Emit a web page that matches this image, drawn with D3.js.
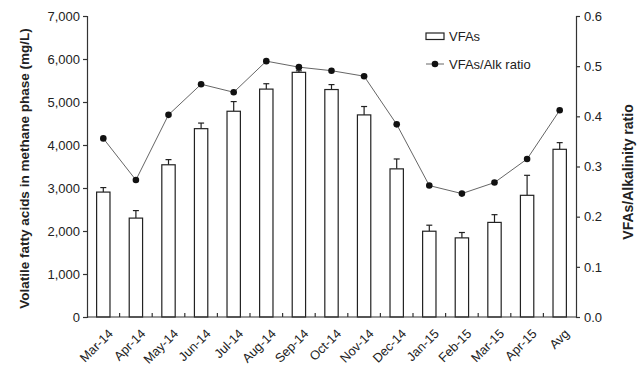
<!DOCTYPE html>
<html>
<head>
<meta charset="utf-8">
<script src="https://cdn.jsdelivr.net/npm/d3@7"></script>
<style>
  body { margin: 0; background: #fff; }
  svg { display: block; font-family: "Liberation Sans", Arial, sans-serif; }
</style>
</head>
<body>
<svg id="chart" width="640" height="366"></svg>
<script>
// Monthly volatile fatty acids in the methane phase and VFA/alkalinity ratio
const months = ["Mar-14","Apr-14","May-14","Jun-14","Jul-14","Aug-14","Sep-14","Oct-14",
                "Nov-14","Dec-14","Jan-15","Feb-15","Mar-15","Apr-15","Avg"];
const vfas    = [2905, 2300, 3540, 4380, 4785, 5300, 5690, 5290, 4700, 3445, 1995, 1840, 2200, 2830, 3900];
const vfasErr = [ 105,  175,  120,  130,  225,  125,   35,  115,  195,  230,  140,  125,  180,  465,  155];
const ratio   = [0.356, 0.273, 0.403, 0.464, 0.448, 0.510, 0.498, 0.491, 0.480, 0.384,
                 0.262, 0.246, 0.268, 0.315, 0.412];
const leftTicks  = [0, 1000, 2000, 3000, 4000, 5000, 6000, 7000];
const rightTicks = [0, 0.1, 0.2, 0.3, 0.4, 0.5, 0.6];

const svg = d3.select("#chart");
const L = 87, R = 576, T = 16, B = 317;
const axisColor = "#333";

const x = d3.scaleBand().domain(months).range([L, R]).paddingInner(0.59).paddingOuter(0.295);
const yL = d3.scaleLinear().domain([0, 7000]).range([B, T]);
const yR = d3.scaleLinear().domain([0, 0.6]).range([B, T]);
const cx = d => x(d) + x.bandwidth() / 2;

// Bars with upper error bars
const bars = svg.append("g");
months.forEach((m, i) => {
  const top = yL(vfas[i]);
  const et = yL(vfas[i] + vfasErr[i]);
  bars.append("line").attr("x1", cx(m)).attr("x2", cx(m)).attr("y1", top).attr("y2", et)
    .attr("stroke", "#222").attr("stroke-width", 1.2);
  bars.append("line").attr("x1", cx(m) - 3).attr("x2", cx(m) + 3).attr("y1", et).attr("y2", et)
    .attr("stroke", "#222").attr("stroke-width", 1.2);
  bars.append("rect").attr("x", x(m)).attr("y", top)
    .attr("width", x.bandwidth()).attr("height", B - top)
    .attr("fill", "#fff").attr("stroke", "#222").attr("stroke-width", 1.2);
});

// Ratio line and markers
const line = d3.line().x((d, i) => cx(months[i])).y(d => yR(d));
svg.append("path").datum(ratio).attr("d", line)
  .attr("fill", "none").attr("stroke", "#666").attr("stroke-width", 1);
svg.append("g").selectAll("circle").data(ratio).join("circle")
  .attr("cx", (d, i) => cx(months[i])).attr("cy", d => yR(d)).attr("r", 3.3)
  .attr("fill", "#111");

// Left axis
const fmt = d3.format(",");
const gL = svg.append("g").attr("transform", `translate(${L},0)`)
  .call(d3.axisLeft(yL).tickValues(leftTicks).tickFormat(fmt).tickSizeOuter(0).tickSize(4).tickPadding(3));
// Right axis
const gR = svg.append("g").attr("transform", `translate(${R},0)`)
  .call(d3.axisRight(yR).tickValues(rightTicks).tickFormat(d3.format(".1f")).tickSizeOuter(0).tickSize(4).tickPadding(4));
[gL, gR].forEach(g => {
  g.select(".domain").attr("stroke", axisColor).attr("stroke-width", 1.2);
  g.selectAll(".tick line").attr("stroke", axisColor).attr("stroke-width", 1.2);
  g.selectAll(".tick text").attr("fill", "#222").style("font-size", "13px")
    .style("font-family", "Liberation Sans, Arial, sans-serif");
});

// Bottom axis: baseline with inward ticks between categories
const gB = svg.append("g");
gB.append("line").attr("x1", L).attr("x2", R).attr("y1", B).attr("y2", B)
  .attr("stroke", axisColor).attr("stroke-width", 1.2);
months.slice(1).forEach(m => {
  const bx = x(m) - x.step() * x.paddingInner() / 2;
  gB.append("line").attr("x1", bx).attr("x2", bx).attr("y1", B).attr("y2", B - 4)
    .attr("stroke", axisColor).attr("stroke-width", 1.2);
});
gB.selectAll("text").data(months).join("text")
  .attr("transform", d => `translate(${cx(d) + 4},${B + 11}) rotate(-45)`)
  .attr("text-anchor", "end").attr("dy", "0.71em")
  .style("font-size", "12.8px").attr("fill", "#222").text(d => d);

// Axis titles
svg.append("text").attr("transform", `translate(24,${(T + B) / 2 + 2}) rotate(-90)`)
  .attr("text-anchor", "middle").attr("dy", "0.35em")
  .style("font-size", "13.5px").style("font-weight", "bold").attr("fill", "#222")
  .text("Volatile fatty acids in methane phase (mg/L)");
svg.append("text").attr("transform", `translate(628,172) rotate(-90)`)
  .attr("text-anchor", "middle").attr("dy", "0.35em")
  .style("font-size", "14px").style("font-weight", "bold").attr("fill", "#222")
  .text("VFAs/Alkalinity ratio");

// Legend
const lg = svg.append("g");
lg.append("rect").attr("x", 426).attr("y", 33).attr("width", 18).attr("height", 6.5)
  .attr("fill", "#fff").attr("stroke", "#222").attr("stroke-width", 1.2);
lg.append("text").attr("x", 449).attr("y", 41).style("font-size", "13px").attr("fill", "#222").text("VFAs");
lg.append("line").attr("x1", 426).attr("x2", 444).attr("y1", 64).attr("y2", 64)
  .attr("stroke", "#666").attr("stroke-width", 1);
lg.append("circle").attr("cx", 435).attr("cy", 64).attr("r", 3.3).attr("fill", "#111");
lg.append("text").attr("x", 449).attr("y", 68.5).style("font-size", "13px").attr("fill", "#222").text("VFAs/Alk ratio");
</script>
</body>
</html>
